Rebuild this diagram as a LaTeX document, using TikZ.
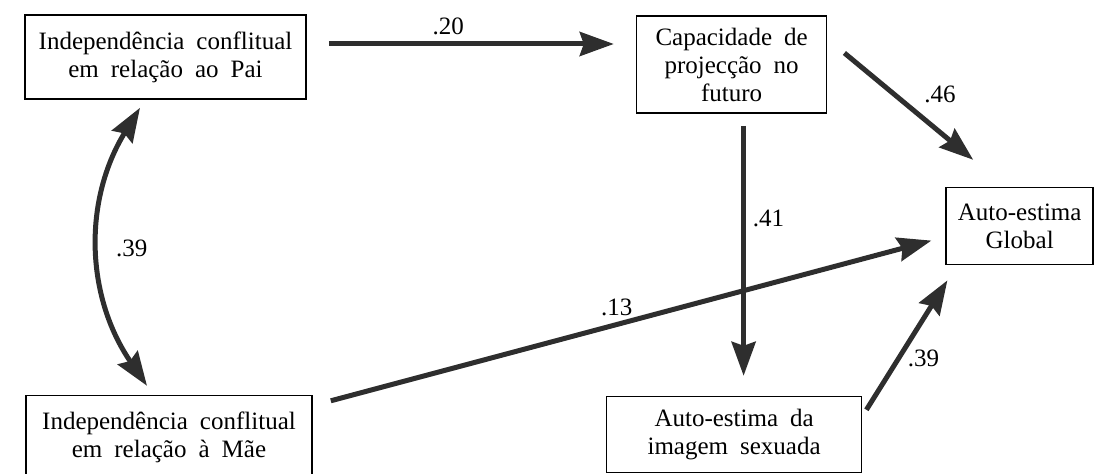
\documentclass[tikz,border=0pt]{standalone}
\usepackage{fontspec}
\setmainfont{Liberation Serif}
\usepackage{tikz}
\usetikzlibrary{positioning}
\usetikzlibrary{arrows.meta}
\newcommand{\boxfont}{\fontsize{12.5pt}{14pt}\selectfont\spaceskip 6pt plus 1pt\relax}

\begin{document}
\begin{tikzpicture}[
                          boxnode/.style={rectangle, draw, thick, align=center, inner sep=2pt, font=\boxfont},
                          heavy/.style={line width=2.5pt, draw=black!82},
                          coef/.style={font=\boxfont},
                          >={Stealth[length=17pt, width=12pt, inset=2pt]},
                      ]
                      \useasboundingbox (0,0) rectangle (547pt,-237pt);

                      %Nodes
                      \node[boxnode, minimum width=140.5pt, minimum height=42pt]   (pai)   at (82.75pt,-28.5pt)                        {Independência conflitual\\em relação ao Pai};
                      \node[boxnode, minimum width=95pt, minimum height=48.5pt]    (cap)   [below right=0.5pt and 164.5pt of pai.north east] {Capacidade de\\projecção no\\futuro};
                      \node[boxnode, minimum width=73.5pt, minimum height=38.5pt]  (glob)  [below right=36.5pt and 59pt of cap.south east]   {Auto-estima\\Global};
                      \node[boxnode, minimum width=143pt, minimum height=42pt]     (mae)   [below=147.5pt of pai, xshift=1.75pt]            {Independência conflitual\\em relação à Mãe};
                      \node[boxnode, minimum width=127.5pt, minimum height=38pt]   (sex)   [below right=0.5pt and 146.5pt of mae.north east] {Auto-estima da\\imagem sexuada};

                      \coordinate (c20) at ([yshift=6.5pt]pai.east);
                      \coordinate (c41) at ([xshift=6pt]cap.south);

                      %Lines
                      \draw[->, heavy, shorten <=11pt, shorten >=11pt] (c20) -- (c20 -| cap.west) node[coef, above, pos=0.43] {.20};
                      \draw[->, heavy] ([xshift=8.5pt,yshift=5.75pt]cap.east) -- ([xshift=-23.25pt,yshift=13.5pt]glob.north) node[coef, above right, pos=0.55] {.46};
                      \draw[->, heavy, shorten <=6pt, shorten >=10pt] (c41) -- (c41 |- sex.north) node[coef, right, pos=0.37] {.41};
                      \draw[->, heavy] ([xshift=9pt,yshift=-3pt]mae.north east) -- ([xshift=-7pt,yshift=-7.25pt]glob.west) node[coef, above, pos=0.476] {.13};
                      \draw[->, heavy] ([xshift=2pt,yshift=-7pt]sex.north east) -- ([xshift=1pt,yshift=-7.5pt]glob.south west) node[coef, right, pos=0.4] {.39};
                      \draw[<->, heavy] ([xshift=-12.75pt,yshift=-4pt]pai.south) to[bend right=33] node[coef, right, xshift=4pt] {.39} ([xshift=-11pt,yshift=4.5pt]mae.north);
                  \end{tikzpicture}
\end{document}
